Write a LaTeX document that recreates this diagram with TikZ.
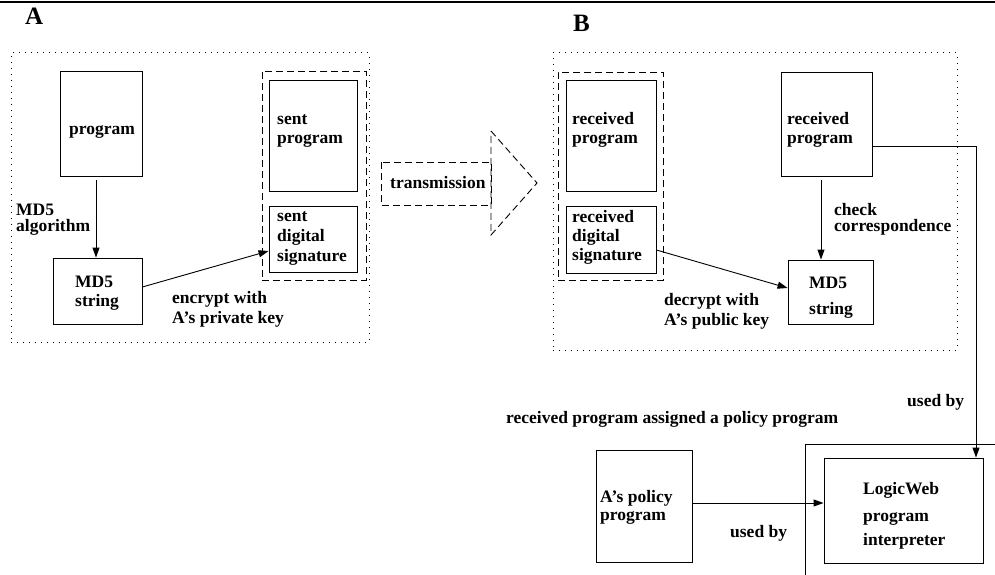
\documentclass[tikz,border=0pt]{standalone}
\usepackage{fontspec}
\setmainfont{Liberation Serif}
\usetikzlibrary{arrows.meta,fit,calc}
\begin{document}
\begin{tikzpicture}[x=1pt,y=-1pt,
  box/.style={draw, line width=0.9pt, inner sep=0pt},
  dotbox/.style={draw, line width=1pt, dash pattern=on 1pt off 5pt, inner sep=0pt},
  dashbox/.style={draw, line width=0.9pt, dash pattern=on 7pt off 4pt, inner sep=0pt},
  lbl/.style={inner sep=0pt, align=left, anchor=base west, font=\bfseries\fontsize{17.5}{20}\selectfont},
  big/.style={inner sep=0pt, anchor=base west, font=\bfseries\fontsize{25}{30}\selectfont},
  conn/.style={line width=0.9pt},
  arr/.style={conn, -{Triangle[length=10pt,width=7pt]}}]

\useasboundingbox (0,0) rectangle (995,575);

% heading rule
\draw[line width=2.5pt] (0,2) -- (995,2);

% site labels
\node[big] (labA) at (25,25) {A};
\node[big] (labB) at (573,32) {B};

% ---- sender side A ----
% (multi-line labels are placed by the baseline of their last line)
\node[dotbox, fit={(11,53) (369,342)}] (siteA) {};
\node[box, fit={(60,71) (142,176)}] (prog) {};
\node[box, fit={(53,258) (142,324)}] (md5a) {};
\node[dashbox, fit={(262,71) (366,280)}] (sentgrp) {};
\node[box, fit={(269,80) (357,191)}] (sentprog) {};
\node[box, fit={(269,206) (357,272)}] (sentsig) {};

\node[lbl] (tProg) at (69,135) {program};
\node[lbl] (tAlg) at (16,231) {MD5\\[-4pt]algorithm};
\node[lbl] (tMdA) at (75,306.5) {MD5\\[-1pt]string};
\node[lbl] (tSentProg) at (277,143) {sent\\[-1pt]program};
\node[lbl] (tSentSig) at (277,261) {sent\\digital\\signature};
\node[lbl] (tEnc) at (172,323) {encrypt with\\A’s private key};

\draw[arr] ($(prog.south)+(-5,4)$) -- ($(md5a.north)+(-1.5,0)$);
\draw[arr] ($(md5a.east)+(0,-4)$) -- ($(sentsig.west)+(0,12)$);

% ---- transmission ----
\draw[conn, dash pattern=on 7pt off 4pt] (381,162) rectangle (491,205);
\draw[conn, dash pattern=on 7pt off 4pt] (491,131) -- (537,183) -- (491,235) -- cycle;
\node[lbl] (tTrans) at (390,188) {transmission};

% ---- receiver side B ----
\node[dotbox, fit={(553,53) (957,350)}] (siteB) {};
\node[dashbox, fit={(558,72) (663,280)}] (recvgrp) {};
\node[box, fit={(566,80) (656,191)}] (recvprog) {};
\node[box, fit={(566,206) (656,273)}] (recvsig) {};
\node[box, fit={(781,72) (872,176)}] (progR) {};
\node[box, fit={(788,260) (873,324)}] (md5b) {};

\node[lbl] (tRecvProg) at (572,143.3) {received\\[-1.5pt]program};
\node[lbl] (tRecvSig) at (572,260) {received\\[-1pt]digital\\[-1pt]signature};
\node[lbl] (tProgR) at (787,143.3) {received\\[-1.5pt]program};
\node[lbl] (tCheck) at (834,231.7) {check\\[-4pt]correspondence};
\node[lbl] (tMdB) at (809,314) {MD5\\[6pt]string};
\node[lbl] (tDec) at (664,325) {decrypt with\\A’s public key};

\draw[arr] ($(recvsig.east)+(0,10.5)$) -- ($(md5b.west)+(0,-4)$);
\draw[arr] ($(progR.south)+(-5.5,4)$) -- ($(md5b.north)+(-9.5,0)$);

% ---- policy and interpreter ----
\coordinate (hostBL) at (805,575);
\coordinate (hostTR) at (995,444);
\draw[conn] (hostBL) |- (hostTR);
\node[box, fit={(596,450) (692,562)}] (policy) {};
\node[box, fit={(824,458) (983,563)}] (interp) {};

\node[lbl] (tUsedA) at (907,406) {used by};
\node[lbl] (tAssign) at (506,423) {received program assigned a policy program};
\node[lbl] (tPolicy) at (600,520) {A’s policy\\[-2.5pt]program};
\node[lbl] (tUsedB) at (730,537) {used by};
\node[lbl] (tLW) at (863,545) {LogicWeb\\[7pt]program\\[4pt]interpreter};

\draw[arr] ($(progR.east)+(0,22)$) -| ($(interp.north)+(72.5,0)$);
\coordinate (polOut) at ($(policy.east)+(0,-3)$);
\draw[arr] (polOut) -- (polOut -| interp.west);

\end{tikzpicture}
\end{document}
